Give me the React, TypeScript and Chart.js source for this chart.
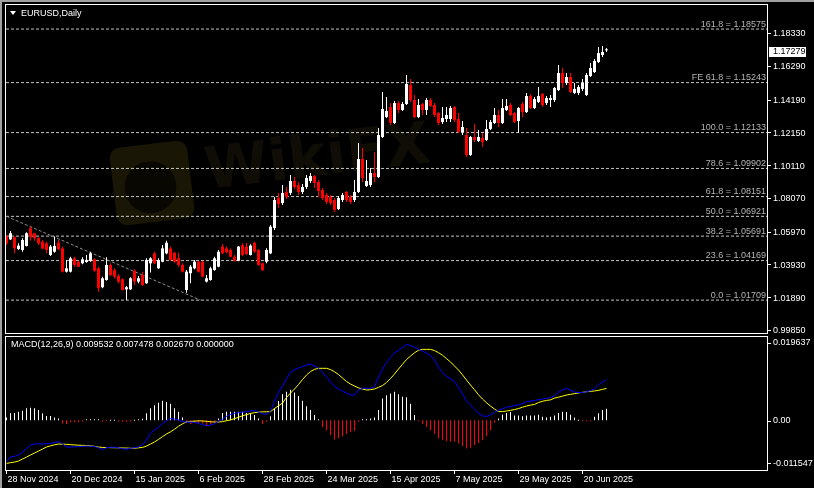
import React, { useEffect, useRef } from 'react';
import { Chart, registerables } from 'chart.js';

Chart.register(...registerables);

const FONT = '"Liberation Sans", Arial, sans-serif';
const BULL = '#ffffff';
const BEAR = '#ff0000';

// ---------------- data ----------------
const opens = [
  1.0566, 1.0549, 1.0562, 1.0489, 1.0483, 1.0508, 1.0618, 1.0587, 1.0556, 1.0534,
  1.0524, 1.0452, 1.0472, 1.0528, 1.0493, 1.0348, 1.0348, 1.0431, 1.0410, 1.0400,
  1.0408, 1.0414, 1.0425, 1.0369, 1.0251, 1.0296, 1.0390, 1.0358, 1.0321, 1.0300,
  1.0238, 1.0238, 1.0354, 1.0286, 1.0327, 1.0276, 1.0400, 1.0462, 1.0369, 1.0410,
  1.0462, 1.0493, 1.0466, 1.0431, 1.0390, 1.0234, 1.0338, 1.0369, 1.0410, 1.0410,
  1.0286, 1.0296, 1.0358, 1.0379, 1.0504, 1.0493, 1.0483, 1.0441, 1.0416, 1.0514,
  1.0504, 1.0452, 1.0528, 1.0483, 1.0400, 1.0410, 1.0462, 1.0620, 1.0806, 1.0775,
  1.0844, 1.0838, 1.0912, 1.0887, 1.0844, 1.0875, 1.0912, 1.0943, 1.0906, 1.0856,
  1.0825, 1.0813, 1.0794, 1.0738, 1.0794, 1.0844, 1.0813, 1.0794, 1.0844, 1.1049,
  1.0881, 1.0887, 1.0962, 1.0937, 1.1186, 1.1310, 1.1372, 1.1273, 1.1397, 1.1354,
  1.1391, 1.1509, 1.1416, 1.1310, 1.1391, 1.1354, 1.1416, 1.1385, 1.1335, 1.1279,
  1.1298, 1.1298, 1.1372, 1.1298, 1.1217, 1.1198, 1.1074, 1.1186, 1.1161, 1.1180,
  1.1167, 1.1236, 1.1273, 1.1323, 1.1273, 1.1354, 1.1385, 1.1335, 1.1285, 1.1391,
  1.1341, 1.1441, 1.1366, 1.1404, 1.1453, 1.1397, 1.1416, 1.1416, 1.1478, 1.1584,
  1.1522, 1.1559, 1.1460, 1.1460, 1.1485, 1.1447, 1.1565, 1.1590, 1.1652, 1.1696,
  1.1725,
];

const highs = [
  1.0576, 1.0601, 1.0566, 1.0524, 1.0556, 1.0593, 1.0628, 1.0590, 1.0562, 1.0545,
  1.0534, 1.0514, 1.0566, 1.0545, 1.0504, 1.0421, 1.0441, 1.0441, 1.0416, 1.0437,
  1.0452, 1.0472, 1.0431, 1.0379, 1.0317, 1.0437, 1.0400, 1.0369, 1.0333, 1.0307,
  1.0259, 1.0313, 1.0363, 1.0321, 1.0348, 1.0431, 1.0437, 1.0472, 1.0431, 1.0514,
  1.0541, 1.0504, 1.0472, 1.0466, 1.0400, 1.0358, 1.0390, 1.0421, 1.0414, 1.0414,
  1.0327, 1.0379, 1.0441, 1.0483, 1.0520, 1.0504, 1.0493, 1.0452, 1.0508, 1.0524,
  1.0528, 1.0518, 1.0534, 1.0487, 1.0404, 1.0493, 1.0638, 1.0813, 1.0838, 1.0887,
  1.0875, 1.0950, 1.0937, 1.0906, 1.0894, 1.0950, 1.0962, 1.0950, 1.0918, 1.0869,
  1.0838, 1.0825, 1.0806, 1.0819, 1.0838, 1.0850, 1.0825, 1.0918, 1.1149, 1.1117,
  1.1043, 1.0993, 1.1092, 1.1242, 1.1466, 1.1435, 1.1397, 1.1410, 1.1410, 1.1404,
  1.1572, 1.1547, 1.1447, 1.1422, 1.1397, 1.1428, 1.1428, 1.1397, 1.1341, 1.1372,
  1.1372, 1.1379, 1.1379, 1.1335, 1.1285, 1.1242, 1.1192, 1.1267, 1.1229, 1.1211,
  1.1292, 1.1292, 1.1366, 1.1354, 1.1422, 1.1422, 1.1397, 1.1341, 1.1372, 1.1404,
  1.1460, 1.1453, 1.1435, 1.1497, 1.1460, 1.1441, 1.1447, 1.1497, 1.1634, 1.1615,
  1.1584, 1.1584, 1.1522, 1.1509, 1.1547, 1.1584, 1.1646, 1.1671, 1.1746, 1.1752,
  1.1739,
];

const lows = [
  1.0514, 1.0545, 1.0462, 1.0483, 1.0472, 1.0504, 1.0541, 1.0541, 1.0514, 1.0487,
  1.0462, 1.0445, 1.0466, 1.0483, 1.0342, 1.0342, 1.0342, 1.0379, 1.0375, 1.0394,
  1.0404, 1.0410, 1.0348, 1.0223, 1.0245, 1.0292, 1.0321, 1.0306, 1.0276, 1.0230,
  1.0171, 1.0234, 1.0265, 1.0276, 1.0259, 1.0272, 1.0342, 1.0396, 1.0365, 1.0406,
  1.0456, 1.0416, 1.0404, 1.0379, 1.0342, 1.0217, 1.0276, 1.0363, 1.0342, 1.0313,
  1.0280, 1.0292, 1.0354, 1.0375, 1.0458, 1.0462, 1.0437, 1.0410, 1.0412, 1.0445,
  1.0452, 1.0448, 1.0466, 1.0385, 1.0352, 1.0400, 1.0458, 1.0607, 1.0744, 1.0763,
  1.0800, 1.0825, 1.0862, 1.0825, 1.0831, 1.0862, 1.0900, 1.0869, 1.0813, 1.0794,
  1.0769, 1.0763, 1.0719, 1.0732, 1.0782, 1.0782, 1.0769, 1.0782, 1.0838, 1.0906,
  1.0875, 1.0875, 1.0906, 1.0931, 1.1180, 1.1304, 1.1261, 1.1267, 1.1335, 1.1348,
  1.1385, 1.1404, 1.1304, 1.1304, 1.1323, 1.1323, 1.1372, 1.1310, 1.1261, 1.1267,
  1.1279, 1.1279, 1.1279, 1.1211, 1.1198, 1.1061, 1.1068, 1.1155, 1.1155, 1.1124,
  1.1161, 1.1229, 1.1267, 1.1248, 1.1267, 1.1348, 1.1316, 1.1273, 1.1211, 1.1310,
  1.1335, 1.1360, 1.1360, 1.1397, 1.1372, 1.1385, 1.1372, 1.1404, 1.1472, 1.1491,
  1.1509, 1.1460, 1.1453, 1.1447, 1.1472, 1.1441, 1.1559, 1.1584, 1.1646, 1.1683,
  1.1715,
];

const closes = [
  1.0524, 1.0587, 1.0493, 1.0510, 1.0545, 1.0587, 1.0566, 1.0556, 1.0524, 1.0493,
  1.0483, 1.0504, 1.0508, 1.0487, 1.0348, 1.0369, 1.0431, 1.0390, 1.0379, 1.0425,
  1.0421, 1.0462, 1.0354, 1.0245, 1.0307, 1.0390, 1.0327, 1.0317, 1.0286, 1.0234,
  1.0251, 1.0307, 1.0286, 1.0307, 1.0265, 1.0421, 1.0431, 1.0400, 1.0421, 1.0493,
  1.0528, 1.0421, 1.0410, 1.0390, 1.0348, 1.0348, 1.0379, 1.0410, 1.0348, 1.0317,
  1.0307, 1.0369, 1.0431, 1.0472, 1.0462, 1.0469, 1.0441, 1.0416, 1.0504, 1.0452,
  1.0458, 1.0510, 1.0472, 1.0390, 1.0358, 1.0483, 1.0628, 1.0794, 1.0769, 1.0838,
  1.0813, 1.0912, 1.0875, 1.0844, 1.0875, 1.0931, 1.0943, 1.0900, 1.0850, 1.0806,
  1.0782, 1.0775, 1.0732, 1.0806, 1.0825, 1.0794, 1.0782, 1.0844, 1.1049, 1.0931,
  1.0912, 1.0962, 1.0937, 1.1198, 1.1360, 1.1348, 1.1273, 1.1397, 1.1354, 1.1391,
  1.1516, 1.1416, 1.1310, 1.1385, 1.1354, 1.1416, 1.1379, 1.1323, 1.1273, 1.1304,
  1.1323, 1.1366, 1.1292, 1.1217, 1.1248, 1.1074, 1.1186, 1.1167, 1.1186, 1.1155,
  1.1236, 1.1279, 1.1323, 1.1273, 1.1366, 1.1379, 1.1323, 1.1279, 1.1366, 1.1341,
  1.1441, 1.1366, 1.1422, 1.1441, 1.1385, 1.1428, 1.1428, 1.1491, 1.1584, 1.1522,
  1.1559, 1.1466, 1.1485, 1.1497, 1.1522, 1.1572, 1.1615, 1.1659, 1.1708, 1.1715,
  1.17279,
];

const macdMain = [
  -0.00978, -0.00872, -0.00855, -0.00824, -0.00753, -0.00671, -0.00588, -0.00565, -0.00553, -0.00565,
  -0.00557, -0.00548, -0.00529, -0.00510, -0.00557, -0.00635, -0.00635, -0.00631, -0.00626, -0.00619,
  -0.00612, -0.00616, -0.00624, -0.00652, -0.00699, -0.00647, -0.00642, -0.00642, -0.00652, -0.00676,
  -0.00683, -0.00666, -0.00650, -0.00635, -0.00576, -0.00470, -0.00305, -0.00234, -0.00163, -0.00080,
  -0.00017, 0.00033, 0.00026, 0.00007, -0.00035, -0.00045, -0.00045, -0.00057, -0.00073, -0.00109,
  -0.00130, -0.00120, -0.00083, -0.00028, 0.00026, 0.00090, 0.00132, 0.00161, 0.00177, 0.00189,
  0.00198, 0.00220, 0.00229, 0.00191, 0.00151, 0.00137, 0.00215, 0.00428, 0.00664, 0.00805,
  0.00976, 0.01127, 0.01193, 0.01231, 0.01268, 0.01301, 0.01325, 0.01283, 0.01224, 0.01129,
  0.01018, 0.00900, 0.00801, 0.00735, 0.00683, 0.00640, 0.00593, 0.00593, 0.00711, 0.00751,
  0.00751, 0.00751, 0.00794, 0.01018, 0.01200, 0.01365, 0.01479, 0.01592, 0.01649, 0.01715,
  0.01790, 0.01762, 0.01722, 0.01675, 0.01630, 0.01583, 0.01519, 0.01420, 0.01254, 0.01129,
  0.01030, 0.00983, 0.00912, 0.00770, 0.00616, 0.00451, 0.00357, 0.00257, 0.00161, 0.00102,
  0.00087, 0.00125, 0.00187, 0.00234, 0.00267, 0.00305, 0.00321, 0.00345, 0.00361, 0.00390,
  0.00435, 0.00451, 0.00465, 0.00482, 0.00498, 0.00513, 0.00536, 0.00574, 0.00659, 0.00716,
  0.00749, 0.00711, 0.00664, 0.00652, 0.00654, 0.00668, 0.00699, 0.00742, 0.00834, 0.00900,
  0.009532,
];

const macdSignal = [
  -0.01020, -0.01006, -0.00990, -0.00966, -0.00919, -0.00872, -0.00824, -0.00777, -0.00730, -0.00683,
  -0.00635, -0.00607, -0.00583, -0.00565, -0.00567, -0.00572, -0.00579, -0.00586, -0.00591, -0.00595,
  -0.00600, -0.00605, -0.00619, -0.00635, -0.00645, -0.00647, -0.00650, -0.00652, -0.00654, -0.00657,
  -0.00659, -0.00664, -0.00664, -0.00654, -0.00645, -0.00612, -0.00565, -0.00517, -0.00456, -0.00390,
  -0.00328, -0.00276, -0.00215, -0.00144, -0.00087, -0.00040, -0.00031, -0.00024, -0.00017, -0.00019,
  -0.00028, -0.00038, -0.00045, -0.00045, -0.00035, -0.00014, 0.00005, 0.00035, 0.00068, 0.00102,
  0.00130, 0.00158, 0.00177, 0.00189, 0.00196, 0.00198, 0.00201, 0.00274, 0.00338, 0.00404,
  0.00534, 0.00640, 0.00735, 0.00841, 0.00959, 0.01065, 0.01148, 0.01200, 0.01224, 0.01224,
  0.01224, 0.01195, 0.01143, 0.01077, 0.00994, 0.00912, 0.00853, 0.00805, 0.00763, 0.00735,
  0.00711, 0.00720, 0.00735, 0.00775, 0.00817, 0.00888, 0.00983, 0.01089, 0.01207, 0.01320,
  0.01431, 0.01514, 0.01590, 0.01651, 0.01672, 0.01672, 0.01672, 0.01644, 0.01594, 0.01533,
  0.01453, 0.01375, 0.01278, 0.01183, 0.01070, 0.00947, 0.00829, 0.00718, 0.00600, 0.00498,
  0.00411, 0.00333, 0.00262, 0.00203, 0.00203, 0.00215, 0.00231, 0.00250, 0.00274, 0.00305,
  0.00333, 0.00354, 0.00371, 0.00416, 0.00446, 0.00465, 0.00479, 0.00520, 0.00543, 0.00567,
  0.00593, 0.00609, 0.00626, 0.00642, 0.00657, 0.00671, 0.00680, 0.00690, 0.00704, 0.00727,
  0.007478,
];

const macdHist = [
  0.0006, 0.0016, 0.0017, 0.0020, 0.0022, 0.0028, 0.0029, 0.0028, 0.0024, 0.0016,
  0.0010, 0.0010, 0.0006, 0.0004, -0.0008, -0.0009, -0.0005, -0.0005, -0.0005, -0.0003,
  0.0001, 0.0001, 0.0002, 0.0002, -0.0003, -0.0001, 0.0000, 0.0000, -0.0003, -0.0004,
  -0.0004, -0.0003, 0.0000, 0.0002, 0.0003, 0.0016, 0.0028, 0.0035, 0.0041, 0.0046,
  0.0043, 0.0039, 0.0028, 0.0020, 0.0006, -0.0007, -0.0009, -0.0007, -0.0007, -0.0008,
  -0.0014, -0.0010, -0.0005, 0.0004, 0.0017, 0.0020, 0.0020, 0.0020, 0.0020, 0.0020,
  0.0017, 0.0016, 0.0012, 0.0004, -0.0009, -0.0004, 0.0009, 0.0028, 0.0045, 0.0061,
  0.0067, 0.0072, 0.0065, 0.0057, 0.0046, 0.0033, 0.0024, 0.0012, 0.0001, -0.0016,
  -0.0024, -0.0035, -0.0046, -0.0043, -0.0038, -0.0033, -0.0028, -0.0025, -0.0004, 0.0002,
  0.0002, 0.0004, 0.0006, 0.0024, 0.0051, 0.0059, 0.0063, 0.0067, 0.0061, 0.0055,
  0.0054, 0.0039, 0.0012, -0.0002, -0.0009, -0.0016, -0.0024, -0.0033, -0.0043, -0.0047,
  -0.0050, -0.0051, -0.0051, -0.0055, -0.0061, -0.0067, -0.0065, -0.0059, -0.0054, -0.0047,
  -0.0038, -0.0024, -0.0006, 0.0004, 0.0013, 0.0017, 0.0019, 0.0011, 0.0011, 0.0009,
  0.0011, 0.0011, 0.0011, 0.0013, 0.0008, 0.0006, 0.0008, 0.0011, 0.0017, 0.0020,
  0.0019, 0.0013, 0.0006, 0.0000, -0.0002, -0.0002, -0.0002, 0.0008, 0.0016, 0.0024,
  0.00267,
];

const dateTickIndex = [0, 16, 32, 48, 64, 80, 96, 112, 128, 144];
const dateTickLabels = [
  '28 Nov 2024', '20 Dec 2024', '15 Jan 2025', '6 Feb 2025', '28 Feb 2025',
  '24 Mar 2025', '15 Apr 2025', '7 May 2025', '29 May 2025', '20 Jun 2025',
];

const priceTicks = [1.1833, 1.1629, 1.1419, 1.1215, 1.1011, 1.0807, 1.0597, 1.0393, 1.0189, 0.9985];

const fibValues = [1.18575, 1.15243, 1.12133, 1.09902, 1.08151, 1.06921, 1.05691, 1.04169, 1.01709];
const fibLabels = [
  '161.8 = 1.18575', 'FE 61.8 = 1.15243', '100.0 = 1.12133', '78.6 = 1.09902',
  '61.8 = 1.08151', '50.0 = 1.06921', '38.2 = 1.05691', '23.6 = 1.04169', '0.0 = 1.01709',
];

const trendX = [0, 48.5];
const trendY = [1.06921, 1.01709];

const lastPrice = 1.17279;
const symbolTitle = 'EURUSD,Daily';
const macdLegend = 'MACD(12,26,9) 0.009532 0.007478 0.002670 0.000000';
const macdAxisValues = [0.019637, 0, -0.011547];
const macdAxisLabels = ['0.019637', '0.00', '-0.011547'];

// ---------------- scale ranges ----------------
const X_MIN = -0.125;
const X_MAX = 190.125;
const P_MAX = 1.200715;
const P_MIN = 0.996634;
const M_MAX = 0.019637;
const M_MIN = -0.011777;

export default function App() {
  const mainRef = useRef<HTMLCanvasElement>(null);
  const macdRef = useRef<HTMLCanvasElement>(null);

  useEffect(() => {
    const n = closes.length;
    const idx = Array.from({ length: n }, (_, i) => i);
    const colors = idx.map((i) => (closes[i] >= opens[i] ? BULL : BEAR));

    const mainDecor = {
      id: 'mainDecor',
      beforeDatasetsDraw(chart: any) {
        const { ctx, chartArea: a } = chart;
        ctx.save();
        ctx.beginPath();
        ctx.rect(a.left, a.top, a.right - a.left, a.bottom - a.top);
        ctx.clip();
        // faint watermark
        ctx.save();
        ctx.translate(152, 183);
        ctx.rotate(-0.12);
        ctx.fillStyle = '#1a1606';
        const w = 78, h = 78, r = 12;
        ctx.beginPath();
        ctx.moveTo(-w / 2 + r, -h / 2);
        ctx.lineTo(w / 2 - r, -h / 2);
        ctx.quadraticCurveTo(w / 2, -h / 2, w / 2, -h / 2 + r);
        ctx.lineTo(w / 2, h / 2 - r);
        ctx.quadraticCurveTo(w / 2, h / 2, w / 2 - r, h / 2);
        ctx.lineTo(-w / 2 + r, h / 2);
        ctx.quadraticCurveTo(-w / 2, h / 2, -w / 2, h / 2 - r);
        ctx.lineTo(-w / 2, -h / 2 + r);
        ctx.quadraticCurveTo(-w / 2, -h / 2, -w / 2 + r, -h / 2);
        ctx.fill();
        ctx.fillStyle = '#090702';
        ctx.beginPath();
        ctx.arc(-2, 4, 26, 0, Math.PI * 2);
        ctx.fill();
        ctx.restore();
        ctx.save();
        ctx.translate(207, 189);
        ctx.rotate(-0.12);
        ctx.fillStyle = '#100d06';
        ctx.font = `bold 58px "DejaVu Sans", sans-serif`;
        ctx.textBaseline = 'alphabetic';
        ctx.fillText('WikiFX', 0, 0);
        ctx.restore();
        ctx.restore();
      },
      afterDraw(chart: any) {
        const { ctx } = chart;
        const ys = chart.scales.y;
        ctx.save();
        ctx.strokeStyle = '#ffffff';
        ctx.lineWidth = 1;
        ctx.strokeRect(5.5, 4.5, 762, 329);
        ctx.font = `9px ${FONT}`;
        ctx.fillStyle = '#ffffff';
        ctx.textAlign = 'left';
        ctx.textBaseline = 'middle';
        priceTicks.forEach((v) => {
          const py = ys.getPixelForValue(v);
          const ry = Math.round(py) + 0.5;
          ctx.beginPath();
          ctx.moveTo(767, ry);
          ctx.lineTo(771, ry);
          ctx.stroke();
          ctx.fillText(v.toFixed(5), 773, py + 1);
        });
        // current price box
        const lp = ys.getPixelForValue(lastPrice);
        ctx.fillStyle = '#ffffff';
        ctx.fillRect(769, Math.round(lp) - 3, 37, 10);
        ctx.fillStyle = '#000000';
        ctx.fillText(lastPrice.toFixed(5), 773, lp + 1.5);
        // fibo labels
        ctx.fillStyle = '#b4b4b4';
        ctx.textAlign = 'right';
        ctx.textBaseline = 'alphabetic';
        fibValues.forEach((v, i) => {
          const py = ys.getPixelForValue(v);
          ctx.fillText(fibLabels[i], 766, py - 2.5);
        });
        // title
        ctx.fillStyle = '#ffffff';
        ctx.beginPath();
        ctx.moveTo(10, 11);
        ctx.lineTo(16, 11);
        ctx.lineTo(13, 15);
        ctx.closePath();
        ctx.fill();
        ctx.textAlign = 'left';
        ctx.fillText(symbolTitle, 21, 16);
        ctx.restore();
      },
    };

    const main = new Chart(mainRef.current as HTMLCanvasElement, {
      type: 'bar',
      data: {
        datasets: [
          {
            type: 'bar',
            data: idx.map((i) => ({ x: i, y: [opens[i], closes[i]] })),
            backgroundColor: colors,
            barThickness: 3,
            maxBarThickness: 3,
            minBarLength: 1,
            grouped: false,
            inflateAmount: 0,
            borderWidth: 0,
          } as any,
          {
            type: 'bar',
            data: idx.map((i) => ({ x: i, y: [lows[i], highs[i]] })),
            backgroundColor: colors,
            barThickness: 1,
            maxBarThickness: 1,
            grouped: false,
            inflateAmount: 0,
            borderWidth: 0,
          } as any,
          {
            type: 'line',
            data: trendX.map((x, i) => ({ x, y: trendY[i] })),
            borderColor: '#8c8c8c',
            borderWidth: 1,
            borderDash: [3, 2],
            pointRadius: 0,
          } as any,
          ...fibValues.map(
            (v) =>
              ({
                type: 'line',
                data: [
                  { x: X_MIN, y: v },
                  { x: X_MAX, y: v },
                ],
                borderColor: '#c4c4c4',
                borderWidth: 1,
                borderDash: [3, 2],
                pointRadius: 0,
              }) as any,
          ),
        ],
      },
      options: {
        animation: false,
        responsive: false,
        maintainAspectRatio: false,
        devicePixelRatio: 1,
        events: [],
        layout: { padding: { left: 6, right: 47, top: 5, bottom: 3 } },
        plugins: { legend: { display: false }, tooltip: { enabled: false } },
        scales: {
          x: { type: 'linear', min: X_MIN, max: X_MAX, display: false, offset: false, bounds: 'data' },
          y: { type: 'linear', min: P_MIN, max: P_MAX, display: false, beginAtZero: false, bounds: 'data' },
        },
      } as any,
      plugins: [mainDecor],
    });

    const macdDecor = {
      id: 'macdDecor',
      afterDraw(chart: any) {
        const { ctx } = chart;
        const ys = chart.scales.y;
        const xs = chart.scales.x;
        ctx.save();
        ctx.strokeStyle = '#ffffff';
        ctx.lineWidth = 1;
        ctx.strokeRect(5.5, 0.5, 762, 134);
        ctx.font = `9px ${FONT}`;
        ctx.fillStyle = '#ffffff';
        ctx.textAlign = 'left';
        ctx.textBaseline = 'middle';
        ctx.fillText(macdLegend, 11, 8.5);
        const offs = [5.6, 0.5, -5.7];
        macdAxisValues.forEach((v, i) => {
          const py = ys.getPixelForValue(v) + offs[i];
          const ry = Math.round(py) + 0.5;
          ctx.beginPath();
          ctx.moveTo(767, ry);
          ctx.lineTo(771, ry);
          ctx.stroke();
          ctx.fillText(macdAxisLabels[i], 773, py);
        });
        dateTickIndex.forEach((k, i) => {
          const px = xs.getPixelForValue(k);
          ctx.beginPath();
          ctx.moveTo(px, 134);
          ctx.lineTo(px, 138);
          ctx.stroke();
          ctx.fillText(dateTickLabels[i], px + 1, 143.5);
        });
        ctx.restore();
      },
    };

    const macd = new Chart(macdRef.current as HTMLCanvasElement, {
      type: 'bar',
      data: {
        datasets: [
          {
            type: 'line',
            data: idx.map((i) => ({ x: i, y: macdMain[i] })),
            borderColor: '#0000ff',
            borderWidth: 1,
            pointRadius: 0,
            tension: 0,
          } as any,
          {
            type: 'line',
            data: idx.map((i) => ({ x: i, y: macdSignal[i] })),
            borderColor: '#ffff00',
            borderWidth: 1,
            pointRadius: 0,
            tension: 0,
          } as any,
          {
            type: 'bar',
            data: idx.map((i) => ({ x: i, y: macdHist[i] })),
            backgroundColor: idx.map((i) => (macdHist[i] >= 0 ? BULL : BEAR)),
            barThickness: 1,
            maxBarThickness: 1,
            minBarLength: 1,
            grouped: false,
            inflateAmount: 0,
            borderWidth: 0,
          } as any,
        ],
      },
      options: {
        animation: false,
        responsive: false,
        maintainAspectRatio: false,
        devicePixelRatio: 1,
        events: [],
        layout: { padding: { left: 6, right: 47, top: 1, bottom: 18 } },
        plugins: { legend: { display: false }, tooltip: { enabled: false } },
        scales: {
          x: { type: 'linear', min: X_MIN, max: X_MAX, display: false, offset: false, bounds: 'data' },
          y: { type: 'linear', min: M_MIN, max: M_MAX, display: false, beginAtZero: false, bounds: 'data' },
        },
      } as any,
      plugins: [macdDecor],
    });

    return () => {
      main.destroy();
      macd.destroy();
    };
  }, []);

  return (
    <div
      style={{
        position: 'fixed',
        left: 0,
        top: 0,
        width: 814,
        height: 488,
        background: '#000000',
        overflow: 'hidden',
      }}
    >
      <canvas
        ref={mainRef}
        width={814}
        height={336}
        style={{ position: 'absolute', left: 0, top: 0, width: 814, height: 336 }}
      />
      <canvas
        ref={macdRef}
        width={814}
        height={152}
        style={{ position: 'absolute', left: 0, top: 336, width: 814, height: 152 }}
      />
      <div style={{ position: 'absolute', left: 0, top: 0, width: 814, height: 2, background: '#a0a0a0' }} />
      <div style={{ position: 'absolute', left: 0, top: 0, width: 2, height: 488, background: '#a0a0a0' }} />
    </div>
  );
}
